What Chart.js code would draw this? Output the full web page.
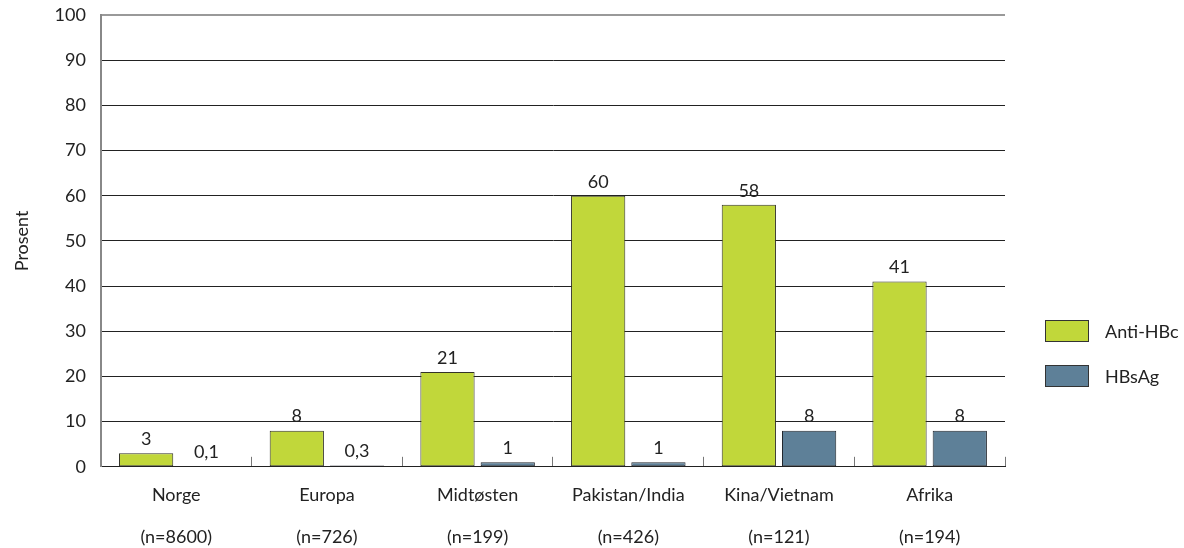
<!DOCTYPE html>
<html><head><meta charset="utf-8">
<script src="https://cdn.jsdelivr.net/npm/chart.js@4.4.1/dist/chart.umd.min.js"></script>
<style>
html,body{margin:0;padding:0;background:#fff;}
#wrap{position:relative;width:1184px;height:548px;}
canvas{position:absolute;left:0;top:0;}
.lg{position:absolute;font-family:Lato,sans-serif;font-size:18px;color:#222;display:flex;align-items:center;}
.lg span.box{display:inline-block;width:42px;height:20px;border:1px solid #333;margin-right:16px;}
</style></head>
<body>
<div id="wrap"><canvas id="c" width="1184" height="548"></canvas>
<div class="lg" style="left:1045px;top:320px;"><span class="box" style="background:#c1d73a"></span>Anti-HBc</div>
<div class="lg" style="left:1045px;top:365px;"><span class="box" style="background:#5e8098"></span>HBsAg</div>
</div>
<script>
const categories = ['Norge','Europa','Midtøsten','Pakistan/India','Kina/Vietnam','Afrika'];
const sampleSizes = ['(n=8600)','(n=726)','(n=199)','(n=426)','(n=121)','(n=194)'];
const antiHBc = [3, 8, 21, 60, 58, 41];
const hbsAg = [0.1, 0.3, 1, 1, 8, 8];
const seriesNames = ['Anti-HBc','HBsAg'];
const yTicks = [0,10,20,30,40,50,60,70,80,90,100];

const FONT = 'Lato, sans-serif';
const labels = categories.map((c,i)=>[c,'',sampleSizes[i]]);

const valueLabels = {
  id:'valueLabels',
  afterDatasetsDraw(chart){
    const ctx = chart.ctx;
    ctx.save();
    ctx.font = '18px ' + FONT;
    ctx.fillStyle = '#222';
    ctx.textAlign = 'center';
    ctx.textBaseline = 'bottom';
    chart.data.datasets.forEach((ds,di)=>{
      chart.getDatasetMeta(di).data.forEach((bar,i)=>{
        const v = ds.data[i];
        ctx.fillText(String(v).replace('.',','), bar.x, bar.y - 5);
      });
    });
    ctx.restore();
  }
};

new Chart(document.getElementById('c'), {
  type:'bar',
  data:{
    labels: labels,
    datasets:[
      {label:seriesNames[0], data:antiHBc, backgroundColor:'#c1d73a', borderColor:'#333328', borderWidth:1, borderSkipped:false},
      {label:seriesNames[1], data:hbsAg, backgroundColor:'#5e8098', borderColor:'#22272e', borderWidth:1, borderSkipped:false}
    ]
  },
  options:{
    responsive:false,
    animation:false,
    layout:{padding:{left:11,right:179,top:15,bottom:-28}},
    plugins:{legend:{display:false}, tooltip:{enabled:false}},
    datasets:{bar:{categoryPercentage:0.8, barPercentage:0.9}},
    scales:{
      x:{
        grid:{offset:true, drawOnChartArea:false, drawTicks:true, tickLength:-10, color:'#777', lineWidth:1},
        border:{display:true, color:'#222', width:1},
        ticks:{font:{family:FONT,size:18,lineHeight:1.17}, color:'#222', padding:28, maxRotation:0, autoSkip:false}
      },
      y:{
        min:0, max:100,
        afterBuildTicks(scale){ scale.ticks = yTicks.map(v=>({value:v})); },
        afterFit(scale){ scale.paddingTop = 0; scale.paddingBottom = 0; },
        grid:{drawTicks:false, color:(c)=> c.tick && c.tick.value===100 ? '#999' : '#222', lineWidth:(c)=> c.tick && c.tick.value===100 ? 2 : 1},
        border:{display:true, color:'#888', width:2},
        ticks:{font:{family:FONT,size:18}, color:'#222', padding:15},
        title:{display:true, text:'Prosent', font:{family:FONT,size:18}, color:'#222', padding:{top:0,bottom:7}}
      }
    }
  },
  plugins:[valueLabels]
});
</script>
</body></html>
